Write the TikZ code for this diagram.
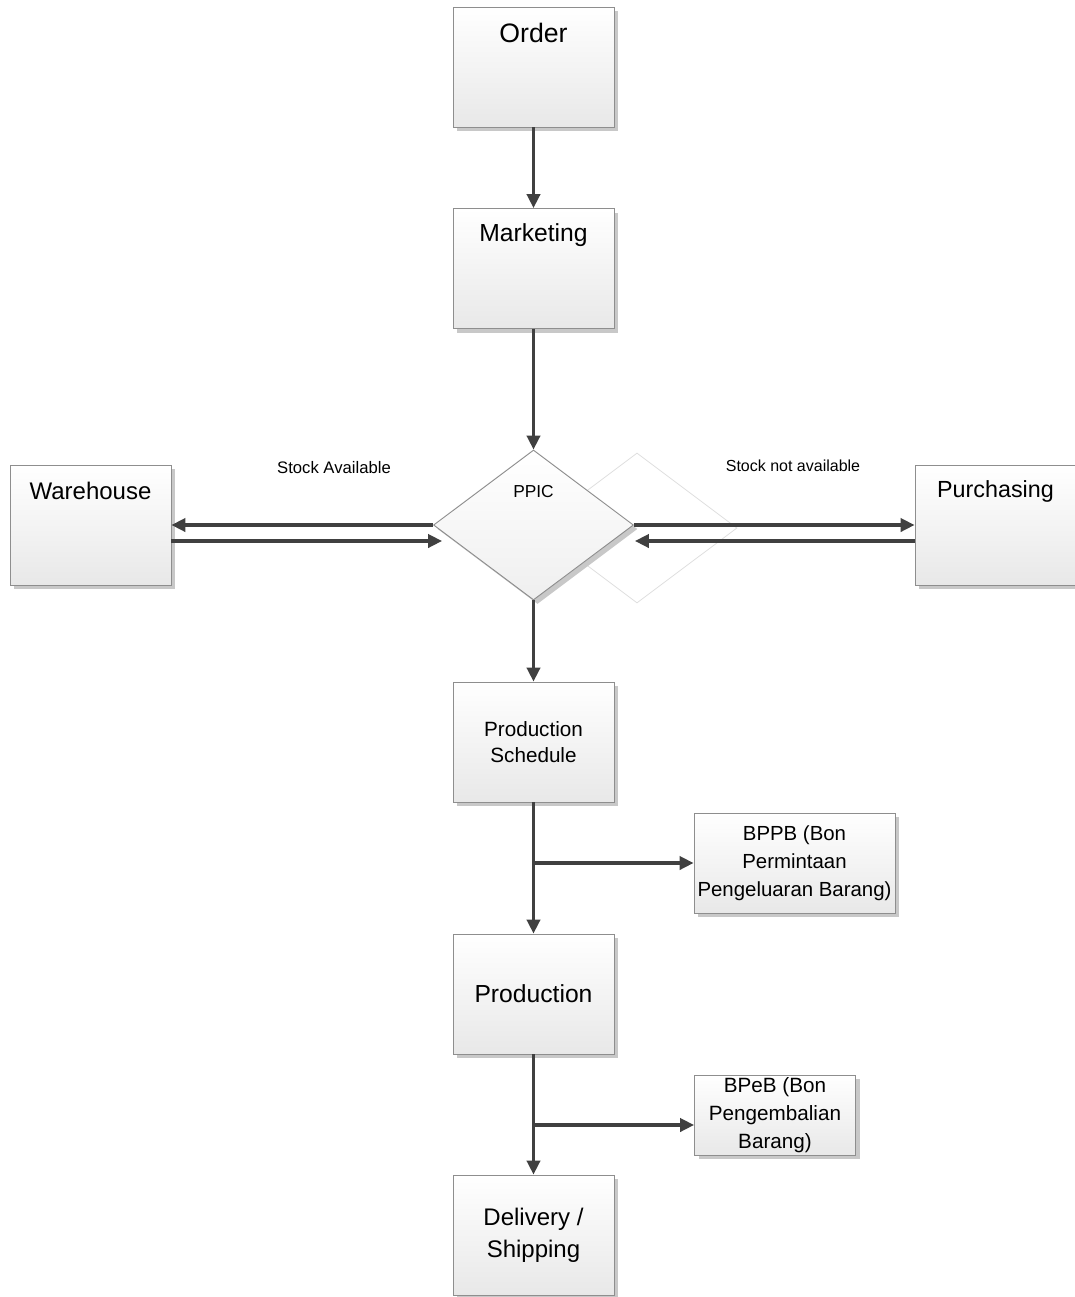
\documentclass[tikz,border=0pt]{standalone}
\usepackage{fontspec}
\setmainfont{Liberation Sans}
\usetikzlibrary{arrows.meta,shapes.geometric,shadows,calc}
\definecolor{ln}{HTML}{404040}
\definecolor{bd}{HTML}{8E8E8E}
\definecolor{shd}{HTML}{C8C8C8}
\definecolor{bot}{HTML}{E8E8E8}
\tikzset{
  box/.style={draw=bd, line width=0.7pt, top color=white, bottom color=bot,
    minimum width=120.75pt, minimum height=90pt, inner sep=0pt, align=center,
    drop shadow={shadow xshift=3pt, shadow yshift=-3pt, fill=shd, opacity=1}},
  conn/.style={draw=ln, line width=2.3pt, -{Triangle[length=10.5pt,width=10pt]}},
  fs/.style={font=\fontsize{#1}{#1}\selectfont},
}
\begin{document}
\begin{tikzpicture}[x=0.75pt,y=-0.75pt]
\useasboundingbox (0,0) rectangle (1075,1297);
% boxes
\node[box] (order) at (533.5,67) {};
\node[fs=20] (ordert) at (533.5,33) {Order};
\node[box] (mkt) at (533.5,268.5) {};
\node[fs=18.5] (mktt) at (533.5,235) {Marketing};
\node[box] (wh) at (90.5,525) {};
\node[fs=18] (wht) at (90.5,491) {Warehouse};
\node[box] (pur) at (995.5,525) {};
\node[fs=17.5] (purt) at (995.5,491) {Purchasing};
% ghost diamond
\node[diamond, draw=gray!25, line width=0.6pt, minimum width=150pt, minimum height=112.5pt, inner sep=0pt] (ghost) at (637,528) {};
\node[diamond, box, bottom color=bot!70, minimum width=150pt, minimum height=112.5pt] (ppic) at (533.5,525) {};
\node[fs=13] (ppict) at (533.5,492) {PPIC};
\node[box, font=\fontsize{15.5}{20}\selectfont] (ps) at (533.5,742) {Production\\Schedule};
\node[box, minimum width=150.75pt, minimum height=75pt, font=\fontsize{15.3}{21}\selectfont] (bppb) at (794.5,863) {BPPB (Bon\\Permintaan\\Pengeluaran Barang)};
\node[box, font=\fontsize{18.5}{22}\selectfont] (prod) at (533.5,994) {Production};
\node[box, minimum height=60pt, font=\fontsize{15.5}{21}\selectfont] (bpeb) at (775,1115) {BPeB (Bon\\Pengembalian\\Barang)};
\node[box, font=\fontsize{18}{24}\selectfont] (del) at (533.5,1235) {Delivery /\\Shipping};
% labels
\node[fs=12.5] (sa) at (334,468) {Stock Available};
\node[fs=12] (sna) at (793,466) {Stock not available};
% connectors
\draw[conn] (order.south) -- (mkt.north);
\draw[conn] (mkt.south) -- (ppic.north);
\draw[conn] (ppic.south) -- (ps.north);
\draw[conn] (ps.south) -- (prod.north);
\draw[conn] (bppb.west -| ps.south) -- (bppb.west);
\draw[conn] (prod.south) -- (del.north);
\draw[conn] ($(bpeb.west -| prod.south)+(0,10)$) -- ($(bpeb.west)+(0,10)$);
\draw[conn] (ppic.west) -- (ppic.west -| wh.east);
\draw[conn] ($(wh.east)+(0,16)$) -- ($(ppic.west)+(9,16)$);
\draw[conn] (ppic.east) -- (ppic.east -| pur.west);
\draw[conn] ($(pur.west)+(0,16)$) -- ($(ppic.east)+(1,16)$);
\end{tikzpicture}
\end{document}
